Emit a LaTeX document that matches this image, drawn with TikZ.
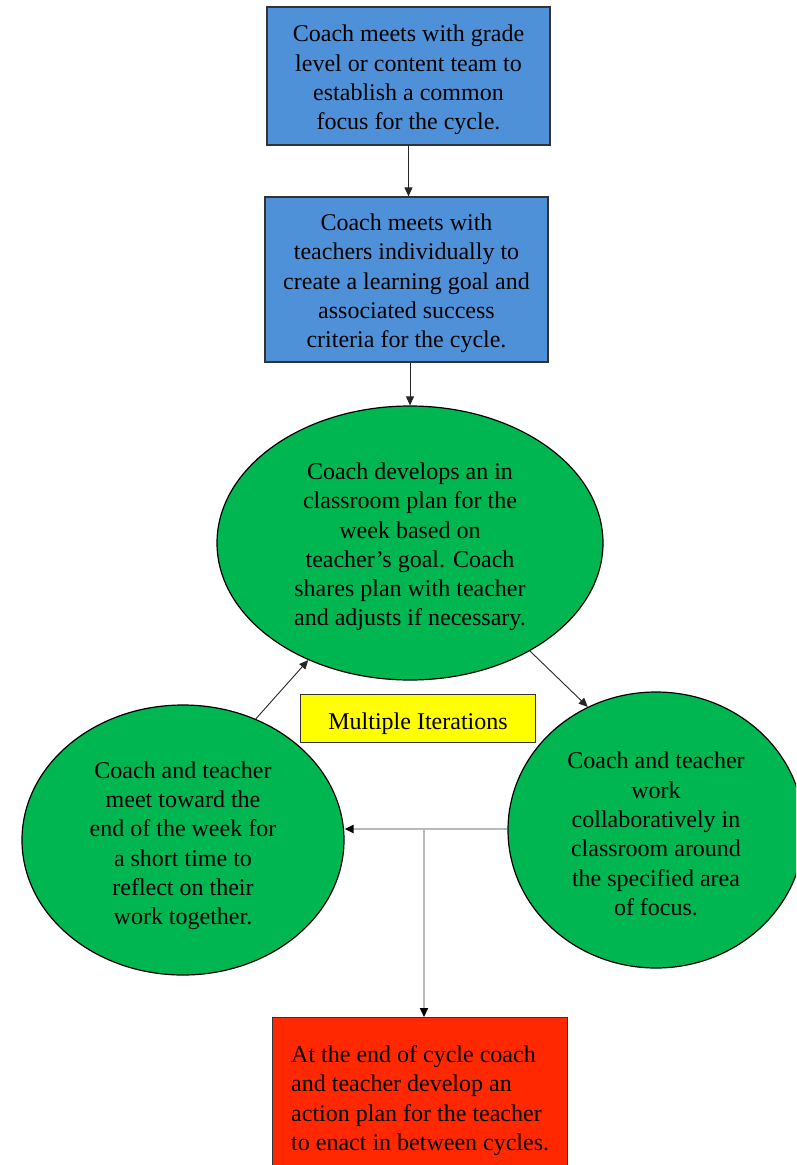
\documentclass[tikz,border=0pt]{standalone}
\usepackage{fontspec}
\setmainfont{Liberation Serif}
\usetikzlibrary{shapes.geometric,arrows.meta}
\definecolor{boxblue}{RGB}{79,145,216}
\definecolor{cgreen}{RGB}{0,182,80}
\definecolor{cred}{RGB}{255,40,0}
\definecolor{cyel}{RGB}{255,255,0}
\definecolor{lgray}{RGB}{185,185,185}
\newcommand\topstrut[1][24.5pt]{\rule{0pt}{#1}}
\tikzset{
  txt/.style={font=\fontsize{24}{29.3}\selectfont, text=black},
  bluebox/.style={txt, draw=black!80, line width=1.3pt, fill=boxblue, rectangle, inner sep=0pt, align=center},
  greenell/.style={txt, draw=black, line width=1.2pt, fill=cgreen, ellipse, inner sep=0pt, align=center},
  yelbox/.style={txt, draw=black!80, line width=1.3pt, fill=cyel, rectangle, inner sep=0pt},
  redbox/.style={txt, draw=black!80, line width=1.3pt, fill=cred, rectangle, align=left, anchor=north west, inner xsep=0pt, inner ysep=15pt},
  arr/.style={draw=black!85, line width=0.9pt, -{Triangle[length=9pt,width=8pt]}},
  garr/.style={draw=lgray, line width=2pt, -{Triangle[length=9pt,width=8pt,fill=black,color=black]}}
}
\begin{document}
\begin{tikzpicture}[x=1pt,y=-1pt]
\useasboundingbox (0,0) rectangle (796,1165);
\clip (0,0) rectangle (796,1165);
\node[bluebox, minimum width=283pt, minimum height=138pt] (b1) at (408.5,76)
  {\topstrut Coach meets with grade\\level or content team to\\establish a common\\focus for the cycle.};
\node[bluebox, minimum width=283pt, minimum height=165pt] (b2) at (406.5,279.5)
  {\topstrut Coach meets with\\teachers individually to\\create a learning goal and\\associated success\\criteria for the cycle.};
\node[greenell, minimum width=386pt, minimum height=274pt] (te) at (410,543)
  {\topstrut Coach develops an in\\classroom plan for the\\week based on\\teacher’s goal. Coach\\shares plan with teacher\\and adjusts if necessary.};
\node[greenell, minimum width=322pt, minimum height=270pt] (lc) at (183,840)
  {\topstrut[28pt]Coach and teacher\\meet toward the\\end of the week for\\a short time to\\reflect on their\\work together.};
\node[greenell, minimum width=296pt, minimum height=276pt] (rc) at (656,830)
  {\topstrut Coach and teacher\\work\\collaboratively in\\classroom around\\the specified area\\of focus.};
\node[yelbox, minimum width=235pt, minimum height=48pt] (mi) at (418,718.5) {\topstrut[27pt]Multiple Iterations};
\node[redbox, minimum width=295pt] (rb) at (272,1017)
  {\topstrut[30pt]At the end of cycle coach\\and teacher develop an\\action plan for the teacher\\to enact in between cycles.};
\coordinate (j) at (424,829);
\draw[arr] (b1.south) -- (b1.south |- b2.north);
\draw[arr] (b2.south -| te.north) -- (te.north);
\draw[arr] (lc.59.7) -- (te.229.4);
\draw[arr] (te.318) -- (rc.119.5);
\draw[garr] (rc.west |- j) -- (lc.east |- j);
\draw[garr] (j) -- (j |- rb.north);
\end{tikzpicture}
\end{document}
